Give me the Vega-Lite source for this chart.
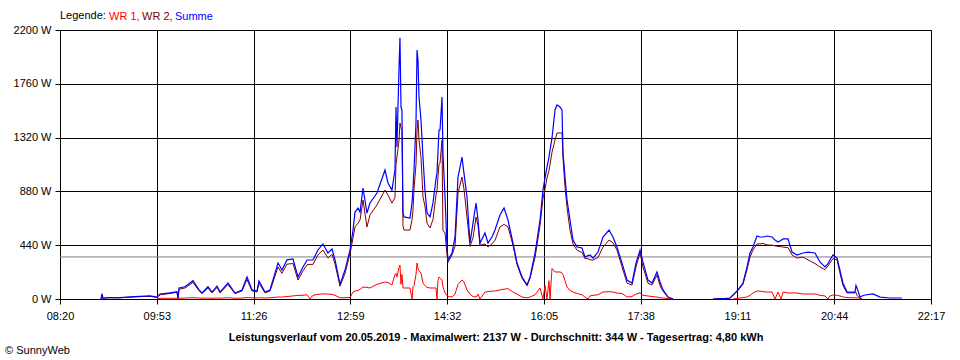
{
  "$schema": "https://vega.github.io/schema/vega-lite/v6.json",
  "width": 871,
  "height": 269,
  "autosize": {"type": "none"},
  "padding": {"left": 60, "top": 30, "right": 29, "bottom": 61},
  "background": "white",
  "config": {
    "view": {"stroke": "black", "strokeWidth": 1},
    "font": "Liberation Sans",
    "axis": {"gridColor": "black", "gridOpacity": 1, "gridWidth": 1, "domainColor": "black", "domainWidth": 1, "tickColor": "black", "tickWidth": 1, "tickSize": 5, "labelFont": "Liberation Sans", "labelFontSize": 11, "labelColor": "black", "titleFont": "Liberation Sans", "titleColor": "black", "titleFontSize": 11}
  },
  "title": {"text": "© SunnyWeb", "orient": "bottom", "anchor": "start", "frame": "bounds", "dx": -8, "offset": 3, "fontSize": 11, "fontWeight": "normal", "font": "Liberation Sans", "color": "black"},
  "datasets": {
    "avg": [{"durchschnitt": 344}],
    "power": [
    {"t": 539.4, "wr1": null, "wr2": 0, "summe": 0},
    {"t": 540.4, "wr1": null, "wr2": 30, "summe": 45},
    {"t": 541.3, "wr1": null, "wr2": 5, "summe": 5},
    {"t": 546.1, "wr1": null, "wr2": 10, "summe": 12},
    {"t": 557.7, "wr1": null, "wr2": 10, "summe": 12},
    {"t": 572.1, "wr1": null, "wr2": 18, "summe": 20},
    {"t": 586.5, "wr1": null, "wr2": 22, "summe": 25},
    {"t": 593.2, "wr1": 3, "wr2": 12, "summe": 15},
    {"t": 596.1, "wr1": 5, "wr2": 35, "summe": 40},
    {"t": 605.7, "wr1": 6, "wr2": 45, "summe": 50},
    {"t": 612.4, "wr1": 6, "wr2": 55, "summe": 60},
    {"t": 613.4, "wr1": 5, "wr2": 5, "summe": 8},
    {"t": 614.4, "wr1": 6, "wr2": 80, "summe": 90},
    {"t": 620.1, "wr1": 8, "wr2": 90, "summe": 100},
    {"t": 627.8, "wr1": 10, "wr2": 135, "summe": 150},
    {"t": 633.6, "wr1": 8, "wr2": 68, "summe": 75},
    {"t": 636.5, "wr1": 6, "wr2": 45, "summe": 50},
    {"t": 642.2, "wr1": 8, "wr2": 90, "summe": 100},
    {"t": 646.1, "wr1": 6, "wr2": 50, "summe": 57},
    {"t": 650.9, "wr1": 8, "wr2": 95, "summe": 106},
    {"t": 653.8, "wr1": 6, "wr2": 50, "summe": 57},
    {"t": 661.4, "wr1": 10, "wr2": 118, "summe": 131},
    {"t": 668.2, "wr1": 6, "wr2": 44, "summe": 49},
    {"t": 674.9, "wr1": 8, "wr2": 66, "summe": 74},
    {"t": 679.7, "wr1": 12, "wr2": 160, "summe": 180},
    {"t": 684.5, "wr1": 10, "wr2": 66, "summe": 74},
    {"t": 689.3, "wr1": 8, "wr2": 58, "summe": 65},
    {"t": 691.2, "wr1": 10, "wr2": 130, "summe": 147},
    {"t": 697.0, "wr1": 8, "wr2": 50, "summe": 57},
    {"t": 701.8, "wr1": 10, "wr2": 65, "summe": 74},
    {"t": 709.5, "wr1": 16, "wr2": 262, "summe": 295},
    {"t": 713.3, "wr1": 16, "wr2": 210, "summe": 237},
    {"t": 718.1, "wr1": 20, "wr2": 285, "summe": 320},
    {"t": 723.9, "wr1": 25, "wr2": 290, "summe": 327},
    {"t": 728.7, "wr1": 30, "wr2": 155, "summe": 180},
    {"t": 733.5, "wr1": 30, "wr2": 230, "summe": 262},
    {"t": 737.4, "wr1": 35, "wr2": 280, "summe": 319},
    {"t": 740.2, "wr1": 0, "wr2": 283, "summe": 319},
    {"t": 743.1, "wr1": 30, "wr2": 283, "summe": 319},
    {"t": 747.9, "wr1": 38, "wr2": 360, "summe": 401},
    {"t": 752.7, "wr1": 42, "wr2": 400, "summe": 450},
    {"t": 757.5, "wr1": 40, "wr2": 335, "summe": 376},
    {"t": 761.4, "wr1": 38, "wr2": 365, "summe": 409},
    {"t": 764.3, "wr1": 30, "wr2": 285, "summe": 319},
    {"t": 769.1, "wr1": 10, "wr2": 105, "summe": 120},
    {"t": 773.9, "wr1": 10, "wr2": 210, "summe": 237},
    {"t": 778.7, "wr1": 12, "wr2": 370, "summe": 401},
    {"t": 781.6, "wr1": 57, "wr2": 500, "summe": 564},
    {"t": 783.5, "wr1": 65, "wr2": 590, "summe": 711},
    {"t": 786.4, "wr1": 70, "wr2": 620, "summe": 744},
    {"t": 788.3, "wr1": 80, "wr2": 646, "summe": 711},
    {"t": 791.2, "wr1": 98, "wr2": 810, "summe": 908},
    {"t": 795.0, "wr1": 95, "wr2": 589, "summe": 703},
    {"t": 797.9, "wr1": 90, "wr2": 687, "summe": 785},
    {"t": 804.6, "wr1": 120, "wr2": 770, "summe": 867},
    {"t": 812.3, "wr1": 139, "wr2": 891, "summe": 1055},
    {"t": 815.2, "wr1": 135, "wr2": 850, "summe": 949},
    {"t": 819.0, "wr1": 114, "wr2": 785, "summe": 891},
    {"t": 821.9, "wr1": 200, "wr2": 830, "summe": 1055},
    {"t": 822.9, "wr1": 210, "wr2": 1100, "summe": 1570},
    {"t": 823.8, "wr1": 180, "wr2": 1161, "summe": 1243},
    {"t": 825.8, "wr1": 260, "wr2": 1300, "summe": 1897},
    {"t": 826.7, "wr1": 278, "wr2": 1439, "summe": 2137},
    {"t": 827.7, "wr1": 120, "wr2": 1400, "summe": 1570},
    {"t": 828.6, "wr1": 200, "wr2": 1382, "summe": 1546},
    {"t": 829.6, "wr1": 90, "wr2": 600, "summe": 703},
    {"t": 830.6, "wr1": 90, "wr2": 564, "summe": 671},
    {"t": 836.3, "wr1": 90, "wr2": 564, "summe": 662},
    {"t": 838.3, "wr1": 0, "wr2": 650, "summe": 785},
    {"t": 839.2, "wr1": 100, "wr2": 720, "summe": 900},
    {"t": 840.2, "wr1": 110, "wr2": 900, "summe": 1055},
    {"t": 842.1, "wr1": 200, "wr2": 1100, "summe": 1439},
    {"t": 843.1, "wr1": 294, "wr2": 1380, "summe": 2036},
    {"t": 844.0, "wr1": 250, "wr2": 1464, "summe": 1955},
    {"t": 845.0, "wr1": 230, "wr2": 1300, "summe": 1652},
    {"t": 846.9, "wr1": 213, "wr2": 1161, "summe": 1464},
    {"t": 848.8, "wr1": 131, "wr2": 834, "summe": 1161},
    {"t": 850.7, "wr1": 110, "wr2": 760, "summe": 891},
    {"t": 852.7, "wr1": 95, "wr2": 620, "summe": 703},
    {"t": 855.6, "wr1": 90, "wr2": 581, "summe": 671},
    {"t": 858.4, "wr1": 90, "wr2": 650, "summe": 785},
    {"t": 861.3, "wr1": 90, "wr2": 850, "summe": 980},
    {"t": 862.3, "wr1": 0, "wr2": 891, "summe": 1030},
    {"t": 863.2, "wr1": 150, "wr2": 1000, "summe": 1200},
    {"t": 864.2, "wr1": 180, "wr2": 1100, "summe": 1382},
    {"t": 865.2, "wr1": 170, "wr2": 1112, "summe": 1382},
    {"t": 867.1, "wr1": 155, "wr2": 1300, "summe": 1652},
    {"t": 868.0, "wr1": 100, "wr2": 560, "summe": 1194},
    {"t": 870.0, "wr1": 49, "wr2": 540, "summe": 834},
    {"t": 871.9, "wr1": 30, "wr2": 360, "summe": 425},
    {"t": 872.9, "wr1": 20, "wr2": 300, "summe": 320},
    {"t": 876.7, "wr1": 16, "wr2": 360, "summe": 376},
    {"t": 879.6, "wr1": 40, "wr2": 430, "summe": 507},
    {"t": 882.5, "wr1": 120, "wr2": 867, "summe": 998},
    {"t": 886.3, "wr1": 155, "wr2": 998, "summe": 1161},
    {"t": 888.2, "wr1": 140, "wr2": 900, "summe": 1030},
    {"t": 891.1, "wr1": 74, "wr2": 671, "summe": 834},
    {"t": 894.0, "wr1": 40, "wr2": 430, "summe": 458},
    {"t": 896.9, "wr1": 20, "wr2": 500, "summe": 622},
    {"t": 899.8, "wr1": 16, "wr2": 671, "summe": 785},
    {"t": 901.7, "wr1": 40, "wr2": 600, "summe": 646},
    {"t": 903.6, "wr1": 0, "wr2": 440, "summe": 458},
    {"t": 908.4, "wr1": 57, "wr2": 450, "summe": 540},
    {"t": 911.3, "wr1": 60, "wr2": 425, "summe": 458},
    {"t": 915.1, "wr1": 65, "wr2": 450, "summe": 507},
    {"t": 918.0, "wr1": 65, "wr2": 480, "summe": 564},
    {"t": 922.8, "wr1": 74, "wr2": 589, "summe": 687},
    {"t": 926.7, "wr1": 80, "wr2": 610, "summe": 744},
    {"t": 930.5, "wr1": 85, "wr2": 590, "summe": 646},
    {"t": 935.3, "wr1": 57, "wr2": 440, "summe": 458},
    {"t": 939.2, "wr1": 40, "wr2": 280, "summe": 294},
    {"t": 944.0, "wr1": 16, "wr2": 170, "summe": 180},
    {"t": 948.8, "wr1": 10, "wr2": 110, "summe": 114},
    {"t": 951.7, "wr1": 16, "wr2": 170, "summe": 180},
    {"t": 956.5, "wr1": 35, "wr2": 340, "summe": 376},
    {"t": 961.3, "wr1": 90, "wr2": 600, "summe": 646},
    {"t": 964.1, "wr1": 0, "wr2": 820, "summe": 891},
    {"t": 966.1, "wr1": 110, "wr2": 900, "summe": 990},
    {"t": 968.0, "wr1": 0, "wr2": 990, "summe": 1080},
    {"t": 969.9, "wr1": 150, "wr2": 1050, "summe": 1160},
    {"t": 970.9, "wr1": 0, "wr2": 1100, "summe": 1218},
    {"t": 972.8, "wr1": 250, "wr2": 1200, "summe": 1317},
    {"t": 975.7, "wr1": 221, "wr2": 1300, "summe": 1546},
    {"t": 977.6, "wr1": 221, "wr2": 1358, "summe": 1587},
    {"t": 980.5, "wr1": 221, "wr2": 1358, "summe": 1570},
    {"t": 982.4, "wr1": 213, "wr2": 1358, "summe": 1546},
    {"t": 983.4, "wr1": 200, "wr2": 1150, "summe": 1194},
    {"t": 985.3, "wr1": 150, "wr2": 916, "summe": 1000},
    {"t": 987.2, "wr1": 98, "wr2": 750, "summe": 810},
    {"t": 990.1, "wr1": 70, "wr2": 564, "summe": 646},
    {"t": 993.0, "wr1": 57, "wr2": 450, "summe": 482},
    {"t": 996.8, "wr1": 45, "wr2": 400, "summe": 425},
    {"t": 1001.6, "wr1": 35, "wr2": 380, "summe": 417},
    {"t": 1004.5, "wr1": 16, "wr2": 330, "summe": 343},
    {"t": 1007.4, "wr1": 0, "wr2": 330, "summe": 355},
    {"t": 1009.3, "wr1": 25, "wr2": 320, "summe": 360},
    {"t": 1012.2, "wr1": 30, "wr2": 319, "summe": 335},
    {"t": 1017.0, "wr1": 35, "wr2": 340, "summe": 384},
    {"t": 1021.8, "wr1": 57, "wr2": 425, "summe": 507},
    {"t": 1027.6, "wr1": 60, "wr2": 482, "summe": 564},
    {"t": 1031.4, "wr1": 57, "wr2": 460, "summe": 507},
    {"t": 1035.2, "wr1": 49, "wr2": 401, "summe": 425},
    {"t": 1040.1, "wr1": 45, "wr2": 262, "summe": 294},
    {"t": 1044.9, "wr1": 16, "wr2": 130, "summe": 155},
    {"t": 1049.7, "wr1": 20, "wr2": 114, "summe": 131},
    {"t": 1053.5, "wr1": 40, "wr2": 262, "summe": 294},
    {"t": 1057.4, "wr1": 50, "wr2": 376, "summe": 401},
    {"t": 1060.2, "wr1": 30, "wr2": 262, "summe": 303},
    {"t": 1065.0, "wr1": 25, "wr2": 130, "summe": 155},
    {"t": 1068.9, "wr1": 20, "wr2": 114, "summe": 131},
    {"t": 1073.7, "wr1": 16, "wr2": 196, "summe": 221},
    {"t": 1076.6, "wr1": 10, "wr2": 110, "summe": 139},
    {"t": 1079.5, "wr1": 8, "wr2": 65, "summe": 74},
    {"t": 1084.3, "wr1": 3, "wr2": 12, "summe": 16},
    {"t": 1089.1, "wr1": 0, "wr2": 0, "summe": 0},
    {"t": 1105.4, "wr1": null, "wr2": null, "summe": null},
    {"t": 1127.5, "wr1": null, "wr2": 0, "summe": 0},
    {"t": 1139.0, "wr1": null, "wr2": 3, "summe": 5},
    {"t": 1143.8, "wr1": null, "wr2": 5, "summe": 8},
    {"t": 1146.7, "wr1": 0, "wr2": 30, "summe": 33},
    {"t": 1151.5, "wr1": 5, "wr2": 70, "summe": 74},
    {"t": 1156.3, "wr1": 12, "wr2": 120, "summe": 131},
    {"t": 1160.2, "wr1": 16, "wr2": 240, "summe": 262},
    {"t": 1163.1, "wr1": 30, "wr2": 343, "summe": 376},
    {"t": 1165.9, "wr1": 49, "wr2": 400, "summe": 425},
    {"t": 1169.8, "wr1": 65, "wr2": 450, "summe": 515},
    {"t": 1172.7, "wr1": 65, "wr2": 450, "summe": 507},
    {"t": 1175.6, "wr1": 60, "wr2": 455, "summe": 507},
    {"t": 1179.4, "wr1": 57, "wr2": 442, "summe": 515},
    {"t": 1184.2, "wr1": 57, "wr2": 440, "summe": 507},
    {"t": 1187.1, "wr1": 0, "wr2": 435, "summe": 482},
    {"t": 1190.0, "wr1": 57, "wr2": 430, "summe": 466},
    {"t": 1192.9, "wr1": 0, "wr2": 428, "summe": 480},
    {"t": 1194.8, "wr1": 57, "wr2": 425, "summe": 491},
    {"t": 1199.6, "wr1": 49, "wr2": 420, "summe": 491},
    {"t": 1203.4, "wr1": 49, "wr2": 360, "summe": 384},
    {"t": 1208.2, "wr1": 49, "wr2": 335, "summe": 360},
    {"t": 1214.0, "wr1": 41, "wr2": 343, "summe": 376},
    {"t": 1218.8, "wr1": 41, "wr2": 320, "summe": 384},
    {"t": 1225.5, "wr1": 41, "wr2": 290, "summe": 376},
    {"t": 1230.3, "wr1": 30, "wr2": 262, "summe": 303},
    {"t": 1235.1, "wr1": 25, "wr2": 240, "summe": 262},
    {"t": 1238.0, "wr1": 0, "wr2": 270, "summe": 290},
    {"t": 1239.9, "wr1": 25, "wr2": 294, "summe": 319},
    {"t": 1242.8, "wr1": 33, "wr2": 330, "summe": 360},
    {"t": 1246.7, "wr1": 30, "wr2": 320, "summe": 335},
    {"t": 1249.5, "wr1": 25, "wr2": 213, "summe": 237},
    {"t": 1252.4, "wr1": 16, "wr2": 110, "summe": 131},
    {"t": 1256.3, "wr1": 12, "wr2": 50, "summe": 57},
    {"t": 1261.1, "wr1": 10, "wr2": 50, "summe": 57},
    {"t": 1264.0, "wr1": 10, "wr2": 50, "summe": 57},
    {"t": 1264.9, "wr1": 10, "wr2": 55, "summe": 110},
    {"t": 1265.9, "wr1": 8, "wr2": 30, "summe": 90},
    {"t": 1268.8, "wr1": 8, "wr2": 5, "summe": 16},
    {"t": 1270.7, "wr1": 0, "wr2": 0, "summe": 25},
    {"t": 1273.6, "wr1": null, "wr2": null, "summe": 33},
    {"t": 1281.3, "wr1": null, "wr2": null, "summe": 41},
    {"t": 1288.0, "wr1": null, "wr2": null, "summe": 16},
    {"t": 1297.6, "wr1": null, "wr2": null, "summe": 8},
    {"t": 1309.1, "wr1": null, "wr2": null, "summe": 8}
  ]},
  "layer": [
    {
      "data": {"name": "avg"},
      "mark": {"type": "rule", "color": "#808080", "strokeWidth": 1},
      "encoding": {
        "y": {"field": "durchschnitt", "type": "quantitative", "scale": {"domain": [0, 2200], "nice": false},
          "axis": {"values": [0, 440, 880, 1320, 1760, 2200], "labelExpr": "datum.value + ' W'", "grid": true, "title": null, "labelPadding": 4}}
      }
    },
    {
      "data": {"name": "power"},
      "mark": {"type": "line", "strokeWidth": 1, "invalid": "break-paths-show-domains"},
      "encoding": {
        "x": {
          "field": "t", "type": "quantitative",
          "scale": {"domain": [500, 1337], "nice": false, "zero": false},
          "axis": {
            "values": [500, 593, 686, 779, 872, 965, 1058, 1151, 1244, 1337],
            "labelExpr": "(floor(datum.value/60) < 10 ? '0' : '') + floor(datum.value/60) + ':' + (datum.value % 60 < 10 ? '0' : '') + (datum.value % 60)",
            "grid": true, "labelFlush": false, "labelOverlap": false, "labelPadding": 6,
            "title": "Leistungsverlauf vom 20.05.2019 - Maximalwert: 2137 W - Durchschnitt: 344 W - Tagesertrag: 4,80 kWh",
            "titleFontWeight": "bold", "titlePadding": 10
          }
        },
        "y": {"field": "wr1", "type": "quantitative", "scale": {"domain": [0, 2200], "nice": false},
          "axis": {"values": [0, 440, 880, 1320, 1760, 2200], "labelExpr": "datum.value + ' W'", "grid": true, "title": null, "labelPadding": 4}},
        "color": {"datum": "WR 1", "type": "nominal",
          "scale": {"domain": ["WR 1", "WR 2", "Summe"], "range": ["#ff0000", "#800000", "#0000ff"]},
          "legend": {"title": "Legende:", "orient": "none", "legendX": 0, "legendY": -19, "direction": "horizontal", "gridAlign": "none", "titleOrient": "left", "titleFontWeight": "normal", "titleFontSize": 11, "titleFont": "Liberation Sans", "titleColor": "black", "titlePadding": 2, "labelFontSize": 11, "labelFont": "Liberation Sans", "symbolSize": 1, "symbolOpacity": 0, "symbolStrokeWidth": 0, "symbolType": "circle", "labelOffset": -10, "columnPadding": 1, "padding": 0, "labelExpr": "datum.label == 'Summe' ? datum.label : datum.label + ','", "labelColor": {"expr": "datum.value == 'WR 1' ? '#ff0000' : (datum.value == 'WR 2' ? '#800000' : '#0000ff')"}}}
      }
    },
    {
      "data": {"name": "power"},
      "mark": {"type": "line", "strokeWidth": 1, "invalid": "break-paths-show-domains"},
      "encoding": {
        "x": {"field": "t", "type": "quantitative"},
        "y": {"field": "wr2", "type": "quantitative"},
        "color": {"datum": "WR 2", "type": "nominal"}
      }
    },
    {
      "data": {"name": "power"},
      "mark": {"type": "line", "strokeWidth": 1.2, "invalid": "break-paths-show-domains"},
      "encoding": {
        "x": {"field": "t", "type": "quantitative"},
        "y": {"field": "summe", "type": "quantitative"},
        "color": {"datum": "Summe", "type": "nominal"}
      }
    }
  ]
}
